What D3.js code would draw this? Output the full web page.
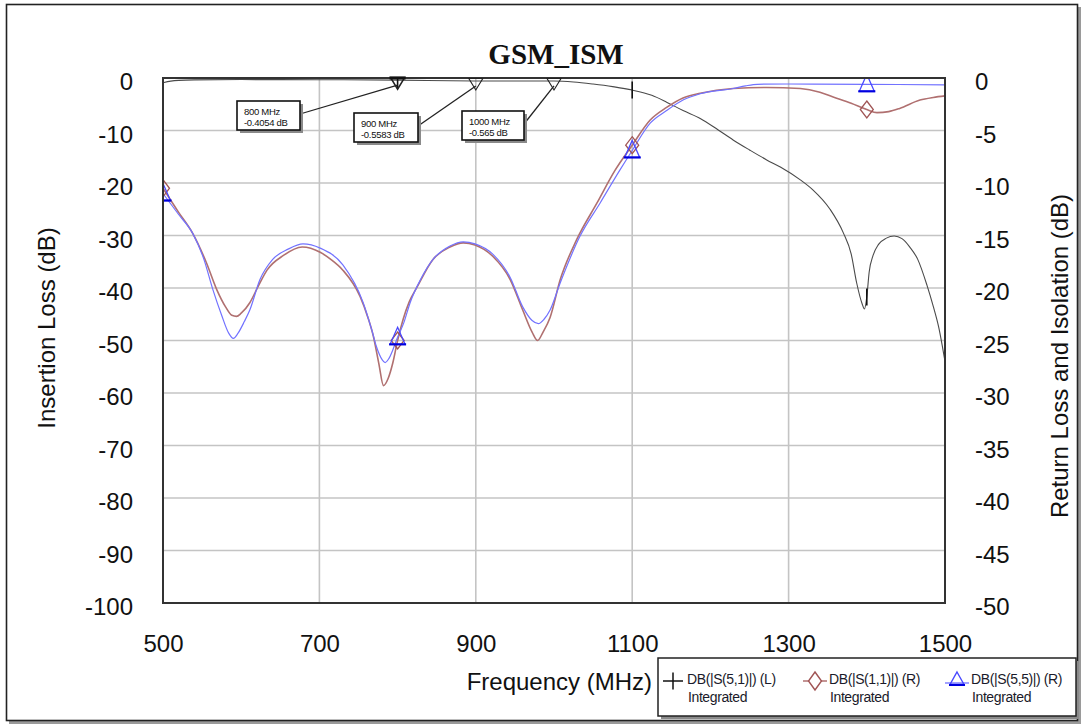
<!DOCTYPE html>
<html>
<head>
<meta charset="utf-8">
<script src="https://cdn.jsdelivr.net/npm/d3@7/dist/d3.min.js"></script>
<style>
  html, body { margin: 0; padding: 0; background: #fff; }
  svg { display: block; }
  text { font-family: "Liberation Sans", Arial, sans-serif; }
</style>
</head>
<body>
<svg id="chart" width="1083" height="725"></svg>
<script>
// ---------------- DATA ----------------
const xTicks = [500, 700, 900, 1100, 1300, 1500];
const leftTicks = [0, -10, -20, -30, -40, -50, -60, -70, -80, -90, -100];
const rightTicks = [0, -5, -10, -15, -20, -25, -30, -35, -40, -45, -50];

// DB(|S(5,1)|) (left axis)
const s51Freq = [500, 510, 520, 540, 600, 700, 800, 900, 1000, 1025, 1050, 1075, 1100, 1125, 1144, 1165, 1187, 1210, 1229, 1250, 1272, 1290, 1315, 1331, 1353, 1370, 1380, 1387, 1394, 1397, 1400, 1403, 1408, 1415, 1425, 1435, 1445, 1455, 1465, 1477, 1485, 1492, 1500];
const s51Val  = [-0.9, -0.6, -0.45, -0.35, -0.3, -0.32, -0.4054, -0.5583, -0.565, -0.75, -1.15, -1.65, -2.3, -3.3, -4.6, -6.2, -7.7, -9.9, -11.8, -13.7, -15.6, -17.0, -19.4, -21.3, -25.0, -29.5, -33.5, -39.0, -43.0, -44.0, -41.7, -37.0, -33.8, -31.7, -30.5, -30.1, -30.6, -32.2, -34.5, -39.5, -43.5, -47.5, -54.0];

// DB(|S(1,1)|) (right axis)
const s11Freq = [500, 520, 538, 555, 569, 580, 588, 594, 600, 611, 622, 633, 654, 678, 701, 715, 730, 752, 762, 769, 776, 782, 788, 794, 800, 807, 815, 825, 845, 867, 884, 899, 922, 944, 960, 972, 979, 986, 995, 1008, 1029, 1055, 1078, 1100, 1123, 1144, 1165, 1187, 1229, 1272, 1315, 1340, 1357, 1380, 1400, 1413, 1428, 1442, 1468, 1485, 1500];
const s11Val  = [-10.5, -12.8, -14.8, -17.5, -20.2, -21.8, -22.6, -22.7, -22.4, -21.4, -19.8, -18.3, -16.9, -16.1, -16.6, -17.3, -18.3, -20.8, -22.8, -24.6, -27.2, -29.3, -28.6, -27.1, -25.0, -23.0, -21.3, -19.9, -17.3, -16.1, -15.7, -15.9, -17.0, -19.2, -22.1, -24.2, -25.0, -24.2, -22.8, -19.2, -15.4, -11.9, -8.8, -6.4, -4.0, -2.8, -1.9, -1.45, -1.0, -0.9, -1.0, -1.35, -1.8, -2.4, -3.0, -3.3, -3.2, -2.9, -2.1, -1.85, -1.7];

// DB(|S(5,5)|) (right axis)
const s55Freq = [500, 520, 538, 552, 564, 575, 584, 590, 596, 604, 611, 624, 640, 660, 679, 701, 730, 756, 767, 773, 780, 784, 789, 800, 808, 816, 830, 845, 867, 884, 899, 922, 944, 960, 972, 980, 987, 995, 1008, 1033, 1059, 1084, 1100, 1123, 1144, 1165, 1187, 1229, 1245, 1260, 1300, 1400, 1500];
const s55Val  = [-11.0, -13.0, -14.8, -17.2, -20.2, -22.6, -24.3, -24.8, -24.3, -23.2, -22.1, -19.2, -17.3, -16.3, -15.8, -16.2, -17.8, -21.4, -24.0, -25.6, -26.8, -27.1, -26.7, -24.7, -23.3, -21.4, -19.1, -17.3, -16.0, -15.6, -15.8, -16.8, -19.0, -21.8, -23.1, -23.4, -23.0, -22.1, -19.5, -15.1, -11.9, -8.8, -6.9, -4.3, -3.1, -2.1, -1.5, -1.0, -0.75, -0.6, -0.57, -0.6, -0.65];

// trace symbols every 300 MHz
const symbolFreqs = [500, 800, 1100, 1400];

// markers on DB(|S(5,1)|)
const markerFreqs = [800, 900, 1000];
const markerVals = [-0.4054, -0.5583, -0.565];
const markerLabels = ["800 MHz", "900 MHz", "1000 MHz"];
const markerValueLabels = ["-0.4054 dB", "-0.5583 dB", "-0.565 dB"];

const legendNames = ["DB(|S(5,1)|) (L)", "DB(|S(1,1)|) (R)", "DB(|S(5,5)|) (R)"];
const legendSub = ["Integrated", "Integrated", "Integrated"];

// ---------------- LAYOUT ----------------
const svg = d3.select("#chart");
const L = 163, R = 945, T = 78, B = 603;
const x = d3.scaleLinear().domain([500, 1500]).range([L, R]);
const yL = d3.scaleLinear().domain([-100, 0]).range([B, T]);
const yR = d3.scaleLinear().domain([-50, 0]).range([B, T]);

const zip = (f, v) => f.map((d, i) => ({ f: d, v: v[i] }));
const s51 = zip(s51Freq, s51Val);
const s11 = zip(s11Freq, s11Val);
const s55 = zip(s55Freq, s55Val);
const fmt = d => String(d);

const col = { black: "#4a4a4a", red: "#b07070", redSym: "#a05454", blue: "#7272ff", blueSym: "#4848ff", blueBar: "#0000e0" };

// outer frame with shadow
svg.append("rect").attr("x", 9).attr("y", 7).attr("width", 1072).attr("height", 717).attr("fill", "#9a9a9a");
svg.append("rect").attr("x", 6.5).attr("y", 4.5).attr("width", 1071).attr("height", 716).attr("fill", "#fff").attr("stroke", "#222").attr("stroke-width", 1.6);

// title
svg.append("text").attr("x", 556).attr("y", 64).attr("text-anchor", "middle")
  .style("font-family", "'Liberation Serif', 'Times New Roman', serif").style("font-weight", "bold")
  .style("font-size", "29px").attr("fill", "#111").text("GSM_ISM");

// clip
svg.append("defs").append("clipPath").attr("id", "plotclip")
  .append("rect").attr("x", L).attr("y", T).attr("width", R - L).attr("height", B - T);

// grid
const grid = svg.append("g");
grid.selectAll("line.v").data(xTicks.slice(1, -1)).enter().append("line")
  .attr("x1", d => x(d)).attr("x2", d => x(d)).attr("y1", T).attr("y2", B)
  .attr("stroke", "#c4c4c4").attr("stroke-width", 1.6);
grid.selectAll("line.h").data(leftTicks.slice(1, -1)).enter().append("line")
  .attr("x1", L).attr("x2", R).attr("y1", d => yL(d)).attr("y2", d => yL(d))
  .attr("stroke", "#c4c4c4").attr("stroke-width", 1.6);

// axes (labels only)
function styleAxis(g) {
  g.select(".domain").remove();
  g.selectAll(".tick line").remove();
  g.selectAll("text").style("font-size", "24px").attr("fill", "#111")
    .style("font-family", "'Liberation Sans', Arial, sans-serif");
}
svg.append("g").attr("transform", `translate(${L},4)`)
  .call(d3.axisLeft(yL).tickValues(leftTicks).tickSize(0).tickPadding(30).tickFormat(fmt))
  .call(styleAxis);
svg.append("g").attr("transform", `translate(${R},4)`)
  .call(d3.axisRight(yR).tickValues(rightTicks).tickSize(0).tickPadding(30).tickFormat(fmt))
  .call(styleAxis);
svg.append("g").attr("transform", `translate(0,${B})`)
  .call(d3.axisBottom(x).tickValues(xTicks).tickSize(0).tickPadding(32).tickFormat(fmt))
  .call(styleAxis);

// axis titles
svg.append("text").attr("transform", "translate(55,328) rotate(-90)").attr("text-anchor", "middle")
  .style("font-size", "24px").attr("fill", "#111").text("Insertion Loss (dB)");
svg.append("text").attr("transform", "translate(1068,356) rotate(-90)").attr("text-anchor", "middle")
  .style("font-size", "24px").attr("fill", "#111").text("Return Loss and Isolation (dB)");
svg.append("text").attr("x", 652).attr("y", 690).attr("text-anchor", "end")
  .style("font-size", "24px").attr("fill", "#111").text("Frequency (MHz)");

// curves
const plot = svg.append("g").attr("clip-path", "url(#plotclip)");
const lineL = d3.line().x(d => x(d.f)).y(d => yL(d.v)).curve(d3.curveMonotoneX);
const lineR = d3.line().x(d => x(d.f)).y(d => yR(d.v)).curve(d3.curveMonotoneX);

plot.append("path").datum(s51).attr("d", lineL).attr("fill", "none").attr("stroke", col.black).attr("stroke-width", 1.1);
plot.append("path").datum(s11).attr("d", lineR).attr("fill", "none").attr("stroke", col.red).attr("stroke-width", 1.6);
plot.append("path").datum(s55).attr("d", lineR).attr("fill", "none").attr("stroke", col.blue).attr("stroke-width", 1.2);

// trace symbols
const sym51 = s51.filter(d => symbolFreqs.includes(d.f));
const sym11 = s11.filter(d => symbolFreqs.includes(d.f));
const sym55 = s55.filter(d => symbolFreqs.includes(d.f));

plot.selectAll("line.plus").data(sym51).enter().append("line")
  .attr("x1", d => x(d.f)).attr("x2", d => x(d.f))
  .attr("y1", d => yL(d.v) - 8.5).attr("y2", d => yL(d.v) + 8.5)
  .attr("stroke", "#111").attr("stroke-width", 1.6);

plot.selectAll("path.dia").data(sym11).enter().append("path")
  .attr("d", d => { const cx = x(d.f), cy = yR(d.v); return `M${cx},${cy - 8.5}L${cx + 6.5},${cy}L${cx},${cy + 8.5}L${cx - 6.5},${cy}Z`; })
  .attr("fill", "none").attr("stroke", col.redSym).attr("stroke-width", 1.3);

const triG = plot.selectAll("g.tri").data(sym55).enter().append("g");
triG.append("path")
  .attr("d", d => { const cx = x(d.f), cy = yR(d.v); return `M${cx},${cy - 10}L${cx + 7.5},${cy + 7}L${cx - 7.5},${cy + 7}Z`; })
  .attr("fill", "none").attr("stroke", col.blueSym).attr("stroke-width", 1.3);
triG.append("line")
  .attr("x1", d => x(d.f) - 8.5).attr("x2", d => x(d.f) + 8.5)
  .attr("y1", d => yR(d.v) + 7).attr("y2", d => yR(d.v) + 7)
  .attr("stroke", col.blueBar).attr("stroke-width", 2.2);

// plot frame
svg.append("rect").attr("x", L).attr("y", T).attr("width", R - L).attr("height", B - T)
  .attr("fill", "none").attr("stroke", "#333").attr("stroke-width", 2);

// markers (down triangles)
const markers = markerFreqs.map((f, i) => ({ f, v: markerVals[i], lab: markerLabels[i], val: markerValueLabels[i], i }));
const boxPos = [ { bx: 237, by: 101 }, { bx: 354, by: 113 }, { bx: 462, by: 111 } ];
const boxW = [63, 64, 62], boxH = 29;

const mg = svg.append("g");
markers.forEach((m, i) => {
  const cx = x(m.f), cy = yL(m.v);
  const p = boxPos[i];
  // leader line
  mg.append("line").attr("x1", p.bx + boxW[i]).attr("y1", p.by + 13).attr("x2", cx).attr("y2", cy + 5)
    .attr("stroke", "#222").attr("stroke-width", 1.3);
  // triangle
  mg.append("path").attr("d", `M${cx - 7},${cy - 2.5}L${cx + 7},${cy - 2.5}L${cx},${cy + 9}Z`)
    .attr("fill", "none").attr("stroke", "#222").attr("stroke-width", i === 0 ? 1.6 : 1.1);
  if (i === 0) {
    mg.append("line").attr("x1", cx - 8).attr("x2", cx + 8).attr("y1", T).attr("y2", T)
      .attr("stroke", "#111").attr("stroke-width", 3);
  }
  // box shadow + box
  mg.append("rect").attr("x", p.bx + 3).attr("y", p.by + 3).attr("width", boxW[i]).attr("height", boxH).attr("fill", "#8a8a8a");
  mg.append("rect").attr("x", p.bx).attr("y", p.by).attr("width", boxW[i]).attr("height", boxH)
    .attr("fill", "#fff").attr("stroke", "#111").attr("stroke-width", 1.6);
  mg.append("text").attr("x", p.bx + 7).attr("y", p.by + 14).style("font-size", "9.5px").attr("fill", "#111")
    .style("letter-spacing", "-0.3px").text(m.lab);
  mg.append("text").attr("x", p.bx + 7).attr("y", p.by + 25).style("font-size", "9.5px").attr("fill", "#111")
    .style("letter-spacing", "-0.3px").text(m.val);
});

// legend
const lg = svg.append("g");
lg.append("rect").attr("x", 661).attr("y", 661).attr("width", 418).attr("height", 58).attr("fill", "#8a8a8a");
lg.append("rect").attr("x", 658).attr("y", 658).attr("width", 418).attr("height", 58)
  .attr("fill", "#fff").attr("stroke", "#222").attr("stroke-width", 1.5);
const legX = [673, 815, 957];
const legTextX = [687, 829, 971];
// symbols
lg.append("line").attr("x1", legX[0] - 10).attr("x2", legX[0] + 10).attr("y1", 681).attr("y2", 681).attr("stroke", "#111").attr("stroke-width", 1.5);
lg.append("line").attr("x1", legX[0]).attr("x2", legX[0]).attr("y1", 672.5).attr("y2", 689.5).attr("stroke", "#111").attr("stroke-width", 1.5);
lg.append("line").attr("x1", legX[1] - 12).attr("x2", legX[1] + 12).attr("y1", 681).attr("y2", 681).attr("stroke", col.red).attr("stroke-width", 1.5);
lg.append("path").attr("d", `M${legX[1]},${672}L${legX[1] + 6.5},${681}L${legX[1]},${690}L${legX[1] - 6.5},${681}Z`)
  .attr("fill", "#fff").attr("stroke", col.redSym).attr("stroke-width", 1.4);
lg.append("line").attr("x1", legX[2] - 12).attr("x2", legX[2] + 12).attr("y1", 683).attr("y2", 683).attr("stroke", col.blue).attr("stroke-width", 1.3);
lg.append("path").attr("d", `M${legX[2]},${672}L${legX[2] + 7},${684.5}L${legX[2] - 7},${684.5}Z`)
  .attr("fill", "none").attr("stroke", col.blueSym).attr("stroke-width", 1.4);
lg.append("line").attr("x1", legX[2] - 8).attr("x2", legX[2] + 8).attr("y1", 685).attr("y2", 685).attr("stroke", col.blueBar).attr("stroke-width", 2);
legendNames.forEach((n, i) => {
  lg.append("text").attr("x", legTextX[i]).attr("y", 684).style("font-size", "14px").attr("fill", "#1a1a2a")
    .style("letter-spacing", "-0.4px").text(n);
  lg.append("text").attr("x", legTextX[i] + 1).attr("y", 702).style("font-size", "14px").attr("fill", "#1a1a2a")
    .style("letter-spacing", "-0.4px").text(legendSub[i]);
});
</script>
</body>
</html>
